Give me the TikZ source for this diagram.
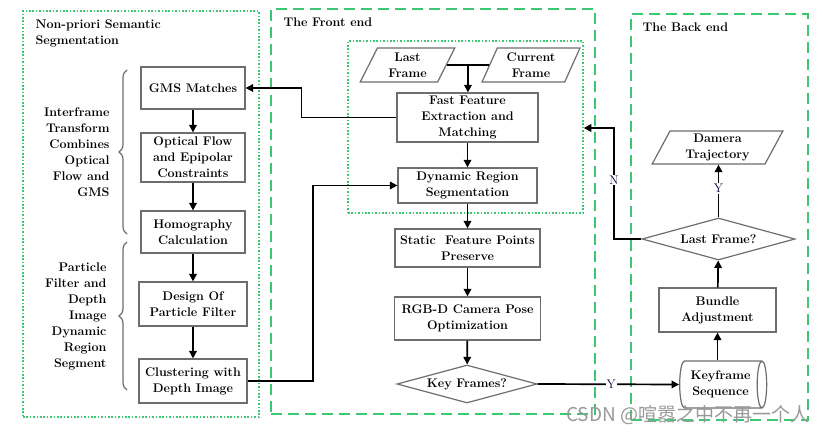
\documentclass[tikz,border=0pt]{standalone}
\usepackage{fontspec}
\newfontfamily\cjkfnt{Noto Sans CJK SC}
\usetikzlibrary{shapes.geometric,arrows.meta,decorations.pathreplacing,calc}
\definecolor{grn}{RGB}{60,200,115}
\definecolor{bord}{RGB}{110,110,110}
\begin{document}
\begin{tikzpicture}[x=1pt,y=-1pt,
  txt/.style={font=\fontsize{12.5}{16}\selectfont\bfseries},
  box/.style={txt,draw=bord,line width=1.2pt,align=center,inner sep=0pt},
  para/.style={box,trapezium,trapezium left angle=66,trapezium right angle=114,trapezium stretches=true},
  dia/.style={box,diamond,aspect=3.6},
  arr/.style={line width=1.7pt,-{Triangle[length=7.5pt,width=7.5pt]}},
  ln/.style={line width=1.7pt},
  dotbox/.style={draw=grn,line width=1.5pt,dash pattern=on 1.6pt off 1.8pt,inner sep=0pt},
  dashbox/.style={draw=grn,line width=1.5pt,dash pattern=on 11pt off 6pt,inner sep=0pt},
  lab/.style={font=\fontsize{12.5}{16}\selectfont, text=black!75!blue, fill=white, inner sep=1pt}
]
\useasboundingbox (0,0) rectangle (834,435);
\fill[white] (0,0) rectangle (834,435);

% group frames
\node[dotbox, minimum width=236pt, minimum height=406pt] (leftgrp) at (141,214) {};
\node[dashbox, minimum width=324pt, minimum height=405pt] (frontgrp) at (433,211.5) {};
\node[dashbox, minimum width=177pt, minimum height=406pt] (backgrp) at (719.5,217) {};
\node[dotbox, minimum width=235pt, minimum height=172pt] (inner) at (465.5,127) {};

\node[txt, anchor=north west, align=left] (t1) at (32,16) {Non-priori Semantic\\Segmentation};
\node[txt, anchor=north west] (t2) at (280,14) {The Front end};
\node[txt, anchor=north west] (t3) at (639,19) {The Back end};

% left column
\node[box, minimum width=104pt, minimum height=42pt] (gms) at (193,88) {GMS Matches};
\node[box, minimum width=104pt, minimum height=49pt] (opt) at (193,157.5) {Optical Flow\\and Epipolar\\Constraints};
\node[box, minimum width=104pt, minimum height=42pt] (homo) at (193,232) {Homography\\Calculation};
\node[box, minimum width=108pt, minimum height=44pt] (design) at (193,304) {Design Of\\Particle Filter};
\node[box, minimum width=108pt, minimum height=44pt] (clus) at (193,381) {Clustering with\\Depth Image};

\draw[bord, line width=1.2pt, decorate, decoration={brace, amplitude=8pt}] (127,234) -- (127,70) coordinate (b1top);
\draw[bord, line width=1.2pt, decorate, decoration={brace, amplitude=8pt}] (127,390) -- (127,242) coordinate (b2top);
\node[txt, align=right, anchor=east] (l1) at (113,152) {Interframe\\Transform\\Combines\\Optical\\Flow and\\GMS};
\node[txt, align=right, anchor=east] (l2) at (110,316) {Particle\\Filter and\\Depth\\Image\\Dynamic\\Region\\Segment};

% front end
\node[para, minimum width=95pt, minimum height=34pt] (last) at (407.5,65) {Last\\Frame};
\node[para, minimum width=98pt, minimum height=34pt] (cur) at (531,65) {Current\\Frame};
\node[box, minimum width=141pt, minimum height=49pt] (fast) at (467.5,117.5) {Fast Feature\\Extraction and\\Matching};
\node[box, minimum width=139pt, minimum height=35pt] (dyn) at (467.5,185.5) {Dynamic Region\\Segmentation};
\node[box, minimum width=145pt, minimum height=38pt] (stat) at (467.5,248) {Static\ \ Feature Points\\Preserve};
\node[box, minimum width=146pt, minimum height=43pt] (rgb) at (467.5,318.5) {RGB-D Camera Pose\\Optimization};
\node[dia, minimum width=140pt, minimum height=38pt] (key) at (467,384) {Key Frames?};

% back end
\node[para, minimum width=131pt, minimum height=33pt] (traj) at (717.5,147.5) {Damera\\Trajectory};
\node[dia, minimum width=153pt, minimum height=42pt] (lastq) at (718.5,239) {Last Frame?};
\node[box, minimum width=117pt, minimum height=44pt] (ba) at (717.5,310) {Bundle\\Adjustment};
\node[box, cylinder, shape aspect=0.35, minimum width=47pt, minimum height=87pt] (kfs) at (720.5,384.5) {Keyframe\\Sequence};

% connectors
\coordinate (j) at ($(last.east)!0.5!(cur.west)$);
\draw[ln] (last.east) -- (cur.west);
\draw[arr] (j) -- (j |- fast.north);
\draw[arr] (fast.west) -- ++(-95,0) |- (gms.east);
\draw[arr] (gms) -- (opt);
\draw[arr] (opt) -- (homo);
\draw[arr] (homo) -- (design);
\draw[arr] (design) -- (clus);
\coordinate (c1) at (313,300);
\draw[arr] (clus.east) -- (clus.east -| c1) |- (dyn.west);
\draw[arr] (fast) -- (dyn);
\draw[arr] (dyn) -- (stat);
\draw[arr] (stat) -- (rgb);
\draw[arr] (rgb) -- (key);
\draw[arr] (key.east) -- node[lab, pos=0.52] {Y} (kfs.west);
\draw[arr] (kfs.north -| ba.south) -- (ba.south);
\draw[arr] (ba) -- (lastq);
\draw[arr] (lastq.north) -- node[lab, pos=0.55] {Y} (lastq.north |- traj.south);
\coordinate (nc) at (614,128);
\draw[arr] (lastq.west) -| (nc) -- (nc -| inner.east);
\node[lab] (nlab) at (614,180) {N};

\node[text=black!40, font=\cjkfnt\fontsize{19}{21}\selectfont, anchor=west, inner sep=0pt] (wm) at (566,415) {CSDN @喧嚣之中不再一个人};
\end{tikzpicture}
\end{document}
